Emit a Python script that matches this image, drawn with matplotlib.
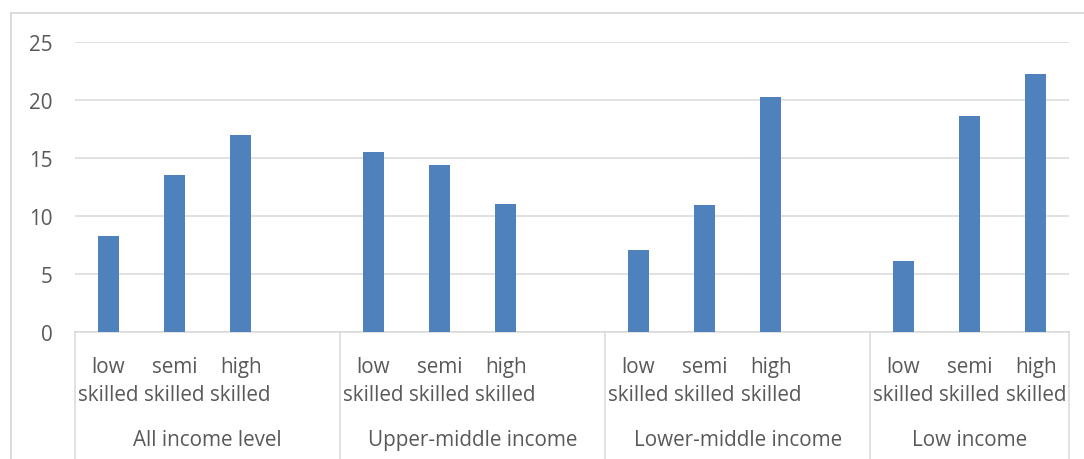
import matplotlib
matplotlib.use("Agg")
import matplotlib.pyplot as plt
from matplotlib.lines import Line2D
import matplotlib.transforms as mtransforms

# ---- data ----
groups = ["All income level", "Upper-middle income", "Lower-middle income", "Low income"]
skills = ["low\nskilled", "semi\nskilled", "high\nskilled"]
all_income = [8.3, 13.55, 17.0]
upper_middle = [15.5, 14.4, 11.0]
lower_middle = [7.05, 10.97, 20.25]
low_income = [6.1, 18.6, 22.2]
series = [all_income, upper_middle, lower_middle, low_income]
yticks = [0, 5, 10, 15, 20, 25]

# ---- style ----
BAR = "#4F81BD"
GRID = "#D9D9D9"
TXT = "#595959"
FONT = "Open Sans"
FS = 14.9

plt.rcParams["font.family"] = [FONT, "DejaVu Sans"]

W, H = 1084, 460
fig = plt.figure(figsize=(W / 100, H / 100), dpi=100)
ax = fig.add_axes([75 / W, (H - 333) / H, 994 / W, 290 / H])

# slot layout: groups of 4 slots (last slot empty), final group has 3
slots_per_group = [4, 4, 4, 3]
positions, heights, labels = [], [], []
boundaries = [-0.5]
start = 0
for g, vals in enumerate(series):
    for s, v in enumerate(vals):
        positions.append(start + s)
        heights.append(v)
        labels.append(skills[s])
    start += slots_per_group[g]
    boundaries.append(start - 0.5)

ax.bar(positions, heights, width=0.32, color=BAR, zorder=3)
ax.set_xlim(-0.5, start - 0.5)
ax.set_ylim(0, 25)
ax.set_yticks(yticks)
ax.set_yticklabels([str(t) for t in yticks], fontsize=FS, color=TXT, fontfamily=FONT)
ax.tick_params(axis="y", length=0, pad=16)
ax.grid(axis="y", color=GRID, linewidth=1.1, zorder=0)
ax.set_axisbelow(True)
for sp in ["left", "right", "top"]:
    ax.spines[sp].set_visible(False)
ax.spines["bottom"].set_color(GRID)
ax.spines["bottom"].set_linewidth(1.1)

ax.set_xticks(positions)
ax.set_xticklabels(labels, fontsize=FS, color=TXT, fontfamily=FONT, linespacing=1.45)
ax.tick_params(axis="x", length=0, pad=17)

trans = mtransforms.blended_transform_factory(ax.transData, ax.transAxes)
# group separators
for b in boundaries:
    ax.add_line(Line2D([b, b], [0, -0.45], transform=trans, color=GRID,
                       linewidth=1.1, clip_on=False))
# group labels
gstart = 0
for g, name in enumerate(groups):
    center = gstart + (slots_per_group[g] - 1) / 2
    ax.text(center, -(441 - 333) / 290, name, transform=trans, ha="center",
            va="center", fontsize=FS, color=TXT, fontfamily=FONT)
    gstart += slots_per_group[g]

# outer chart frame
fig.add_artist(Line2D([11 / W, 1.0], [1 - 14 / H, 1 - 14 / H], transform=fig.transFigure,
                      color=GRID, linewidth=1.3))
fig.add_artist(Line2D([11 / W, 11 / W], [0, 1 - 14 / H], transform=fig.transFigure,
                      color=GRID, linewidth=1.3))

fig.savefig("out.png", dpi=100)
